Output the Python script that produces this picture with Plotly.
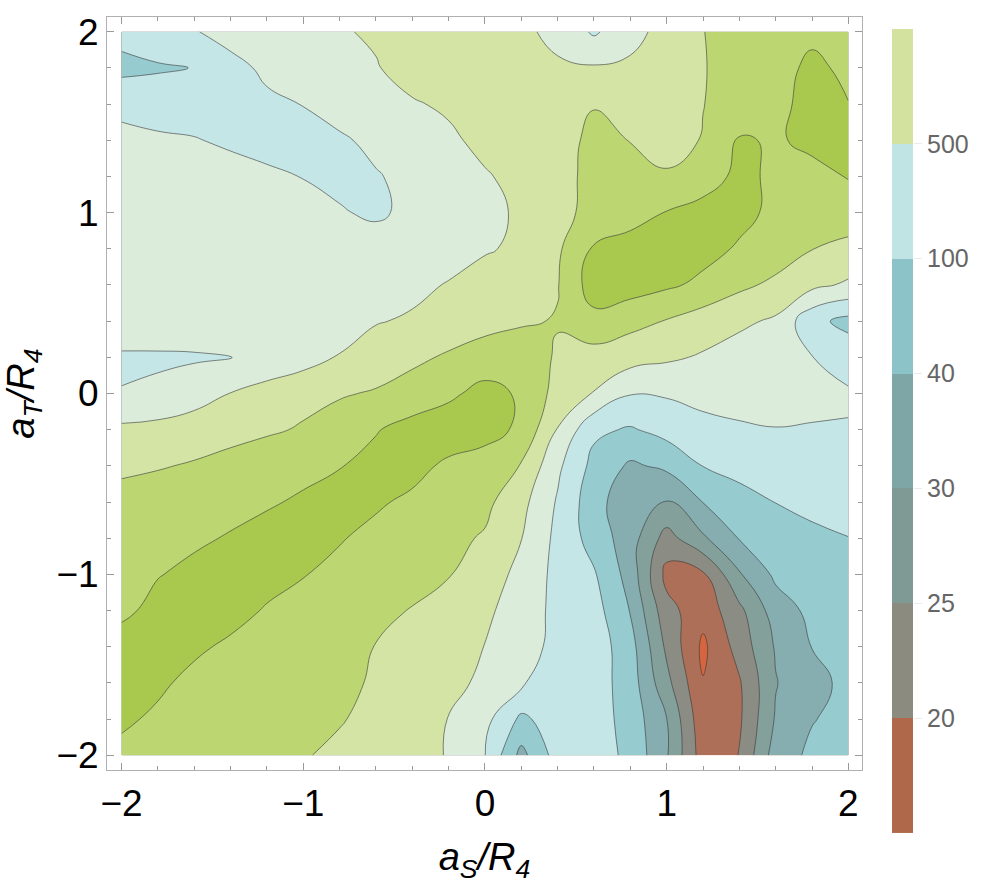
import plotly.graph_objects as go

# grid coordinates (a_S/R_4 , a_T/R_4)
x_vals = [-2.0, -1.8, -1.6, -1.4, -1.2, -1.0, -0.8, -0.6, -0.4, -0.2, 0.0,
          0.2, 0.4, 0.6, 0.8, 1.0, 1.2, 1.4, 1.6, 1.8, 2.0]
y_vals_top_down = [2.0, 1.8, 1.6, 1.4, 1.2, 1.0, 0.8, 0.6, 0.4, 0.2, 0.0,
                   -0.2, -0.4, -0.6, -0.8, -1.0, -1.2, -1.4, -1.6, -1.8, -2.0]

# contour-level index (row = one y value, top row first)
level_rows = [
    [6.3, 6.6, 6.95, 7.3, 7.5, 7.7, 7.9, 8.15, 8.4, 8.5, 8.4, 8.15, 7.8, 6.85, 7.72, 8.29, 8.98, 9.4, 9.6, 9.8, 9.7],
    [5.75, 5.9, 6.02, 6.75, 7.16, 7.4, 7.6, 7.93, 8.44, 8.6, 8.6, 8.45, 8.1, 8.1, 8.15, 8.5, 8.95, 9.4, 9.65, 10.2, 9.8],
    [6.7, 6.55, 6.55, 6.7, 6.85, 7.02, 7.3, 7.6, 7.9, 8.17, 8.5, 8.6, 8.6, 8.97, 8.7, 8.7, 8.98, 9.4, 9.75, 10.3, 10.02],
    [7.3, 7.15, 7.05, 6.85, 6.7, 6.75, 6.9, 7.17, 7.5, 7.8, 8.3, 8.5, 8.75, 9.15, 8.98, 8.65, 9.05, 10.1, 9.9, 10.2, 10.3],
    [7.5, 7.45, 7.45, 7.35, 7.15, 6.98, 6.85, 6.95, 7.19, 7.5, 7.9, 8.33, 8.7, 9.25, 9.4, 9.1, 9.6, 10.2, 9.85, 9.75, 10.05],
    [7.65, 7.6, 7.55, 7.45, 7.35, 7.2, 7.05, 6.9, 7.15, 7.4, 7.8, 8.11, 8.6, 9.4, 9.6, 10.04, 10.3, 10.25, 9.8, 9.6, 9.5],
    [7.75, 7.7, 7.65, 7.6, 7.5, 7.45, 7.4, 7.3, 7.45, 7.65, 7.92, 8.15, 8.85, 10.1, 10.4, 10.45, 10.3, 9.9, 9.5, 9.02, 8.75],
    [7.8, 7.78, 7.75, 7.7, 7.65, 7.62, 7.62, 7.65, 7.8, 8.05, 8.35, 8.6, 8.95, 10.5, 10.45, 10.15, 9.8, 9.2, 8.8, 8.25, 7.85],
    [7.7, 7.72, 7.74, 7.75, 7.75, 7.8, 7.85, 7.95, 8.1, 8.3, 8.6, 8.9, 9.05, 9.7, 9.3, 8.95, 8.5, 8.2, 7.85, 6.3, 5.7],
    [6.85, 6.85, 6.88, 6.95, 7.25, 7.6, 8.03, 8.4, 8.75, 9.15, 9.55, 9.5, 8.9, 8.6, 8.4, 8.15, 7.9, 7.55, 7.3, 7.02, 6.6],
    [7.04, 7.2, 7.6, 8.02, 8.4, 8.7, 8.9, 9.1, 9.5, 9.85, 10.25, 9.9, 8.64, 7.95, 7.05, 7.1, 7.3, 7.3, 7.25, 7.2, 7.1],
    [8.2, 8.3, 8.45, 8.6, 8.85, 9.1, 9.5, 9.95, 10.3, 10.45, 10.4, 9.8, 7.95, 6.2, 5.9, 6.35, 6.7, 6.9, 6.98, 6.95, 6.95],
    [8.75, 8.92, 9.1, 9.4, 9.65, 9.8, 9.97, 10.24, 10.25, 9.85, 9.5, 8.95, 7.2, 5.7, 4.85, 5.2, 6.02, 6.4, 6.5, 6.55, 6.6],
    [9.45, 9.55, 9.7, 9.8, 9.92, 10.1, 10.25, 10.1, 9.85, 9.55, 9.25, 8.3, 6.9, 5.4, 4.3, 3.97, 5.02, 5.55, 6.02, 6.3, 6.45],
    [9.65, 9.8, 9.9, 10.05, 10.25, 10.2, 10.05, 9.8, 9.5, 9.25, 8.9, 8.02, 6.75, 5.6, 4.45, 2.6, 3.85, 5.05, 5.45, 5.75, 5.98],
    [9.85, 9.97, 10.15, 10.3, 10.2, 10.03, 9.81, 9.55, 9.35, 9.05, 8.45, 7.75, 6.7, 6.1, 4.6, 1.7, 1.85, 3.9, 5.2, 5.5, 5.7],
    [9.85, 10.2, 10.3, 10.2, 9.95, 9.75, 9.5, 9.25, 8.95, 8.65, 8.2, 7.5, 6.75, 6.4, 4.95, 2.35, 1.35, 2.75, 4.5, 5.25, 5.5],
    [10.3, 10.2, 10.1, 9.9, 9.7, 9.45, 9.2, 8.98, 8.75, 8.4, 7.98, 7.15, 6.9, 6.55, 5.4, 2.8, 0.8, 2.4, 4.1, 5.02, 5.35],
    [10.2, 10.1, 9.85, 9.65, 9.45, 9.25, 9.1, 8.95, 8.7, 8.35, 7.75, 7.1, 6.6, 6.5, 5.5, 3.3, 1.05, 1.9, 3.95, 4.75, 5.2],
    [10.1, 9.9, 9.75, 9.6, 9.4, 9.2, 9.05, 8.8, 8.5, 7.97, 7.3, 5.8, 6.5, 6.5, 5.6, 4.02, 1.3, 1.85, 4.1, 4.95, 5.3],
    [9.85, 9.7, 9.55, 9.4, 9.25, 9.05, 8.85, 8.6, 8.3, 7.95, 7.02, 4.7, 6.42, 6.5, 5.75, 4.1, 1.5, 2.02, 4.5, 5.2, 5.5],
]

# fill colour of each band (lowest band first)
band_colors = ["#d5653f", "#ad6f58", "#8b8c84", "#84a09b", "#86adb0", "#96cbd0",
               "#c4e6e7", "#dcecdb", "#d3e4a5", "#bcd671", "#a9c94e"]

# legend bar
colorbar_colors = ["#b0684b", "#8b8b80", "#7f9a94", "#7fa6a6", "#8cc3c8", "#c0e4e3", "#d4e2a0"]
colorbar_labels = ["20", "25", "30", "40", "100", "500"]

x_tick_vals = [-2, -1, 0, 1, 2]
x_tick_text = ["\u22122", "\u22121", "0", "1", "2"]
y_tick_vals = [-2, -1, 0, 1, 2]
y_tick_text = ["\u22122", "\u22121", "0", "1", "2"]

y_vals = y_vals_top_down[::-1]
z_vals = level_rows[::-1]

n_bands = len(band_colors)
contour_scale = [[k / (n_bands - 1), band_colors[k]] for k in range(n_bands)]
n_cb = len(colorbar_colors)
cb_scale = [[k / (n_cb - 1), colorbar_colors[k]] for k in range(n_cb)]

FONT = "Liberation Sans Narrow, Arial Narrow, Liberation Sans, Arial, sans-serif"

fig = go.Figure()
fig.add_trace(go.Contour(
    x=x_vals, y=y_vals, z=z_vals,
    autocontour=False,
    contours=dict(start=1, end=10, size=1, coloring="fill", showlines=True),
    line=dict(color="rgba(55,55,55,0.75)", width=0.8, smoothing=1.3),
    colorscale=contour_scale,
    showscale=False,
    hoverinfo="skip",
))
fig.add_trace(go.Heatmap(
    z=[[k] for k in range(n_cb)], x=[0], y=list(range(n_cb)),
    colorscale=cb_scale, zmin=0, zmax=n_cb - 1, showscale=False,
    xaxis="x2", yaxis="y2", hoverinfo="skip",
))

W, H = 984, 884
ml, mr, mt, mb = 107, 22, 13, 51
pw, ph = W - ml - mr, H - mt - mb
frame_r, frame_b = 862, 770
cb_l, cb_r, cb_t, cb_b = 892, 913, 25, 833

axis_common = dict(
    showline=True, linecolor="#b0b0b0", linewidth=1, mirror="ticks",
    ticks="inside", ticklen=7, tickwidth=1, tickcolor="#9a9a9a",
    showgrid=False, zeroline=False,
    tickfont=dict(family=FONT, size=37, color="black"),
    minor=dict(tickmode="linear", tick0=0, dtick=0.2, ticks="inside",
               ticklen=4, tickcolor="#9a9a9a", showgrid=False),
)

fig.update_layout(
    width=W, height=H,
    margin=dict(l=ml, r=mr, t=mt, b=mb),
    paper_bgcolor="white", plot_bgcolor="white",
    showlegend=False,
    xaxis=dict(
        axis_common, domain=[0, (frame_r - ml) / pw], range=[-2.08, 2.075],
        tickmode="array", tickvals=x_tick_vals, ticktext=x_tick_text,
        anchor="y",
        title=dict(text="<i>a<sub>S</sub>/R<sub>4</sub></i>",
                   font=dict(family=FONT, size=38, color="black"), standoff=22),
    ),
    yaxis=dict(
        axis_common, domain=[(H - mb - frame_b) / ph, 1], range=[-2.083, 2.081],
        tickmode="array", tickvals=y_tick_vals, ticktext=y_tick_text,
        anchor="x",
        title=dict(text="<i>a<sub>T</sub>/R<sub>4</sub></i>",
                   font=dict(family=FONT, size=38, color="black"), standoff=14),
    ),
    xaxis2=dict(domain=[(cb_l - ml) / pw, (cb_r - ml) / pw], range=[-0.5, 0.5],
                visible=False, anchor="y2", fixedrange=True),
    yaxis2=dict(domain=[(H - mb - cb_b) / ph, (H - mb - cb_t) / ph], range=[-0.5, n_cb - 0.5],
                anchor="x2", side="right", showline=False, showgrid=False, zeroline=False,
                tickmode="array", tickvals=[k + 0.5 for k in range(len(colorbar_labels))],
                ticktext=colorbar_labels, ticks="outside", ticklen=8, tickcolor="rgba(0,0,0,0.08)",
                tickfont=dict(family="Liberation Sans, Arial, sans-serif", size=25, color="#666666"),
                fixedrange=True),
)

fig.write_html("out.html")
